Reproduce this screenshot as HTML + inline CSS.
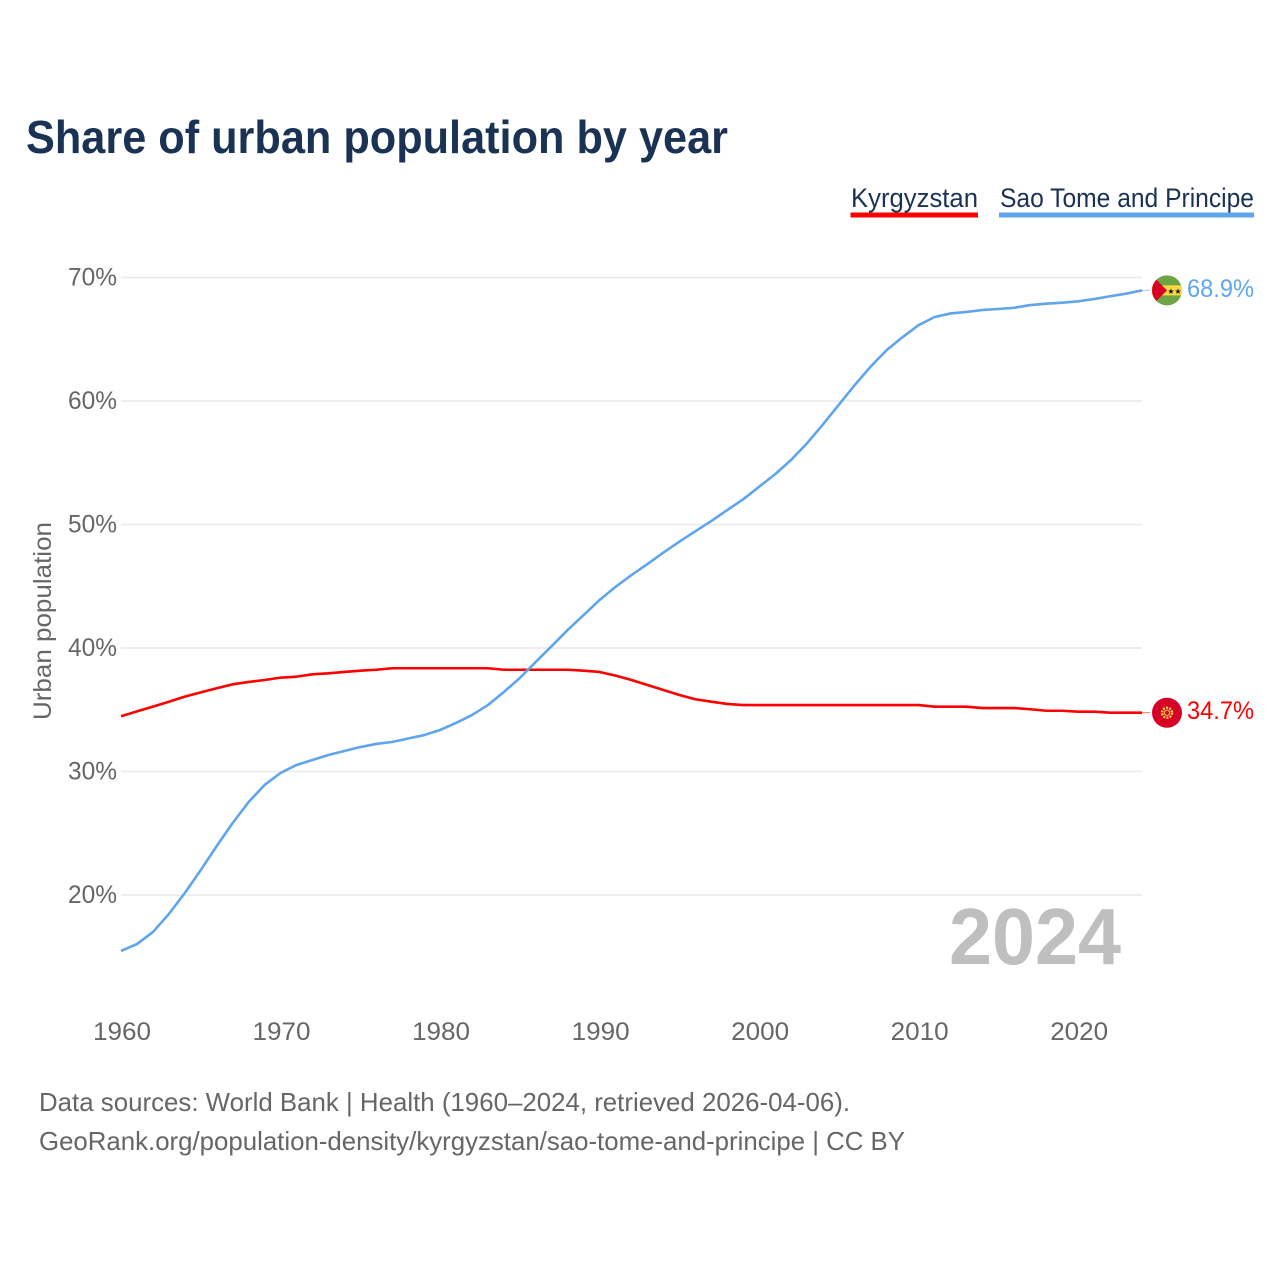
<!DOCTYPE html>
<html lang="en">
<head>
<meta charset="utf-8">
<title>Share of urban population by year</title>
<style>
html,body{margin:0;padding:0;background:#fff}
svg{display:block}
text{font-family:"Liberation Sans",sans-serif}
</style>
</head>
<body>
<svg id="chart" width="1280" height="1280" viewBox="0 0 1280 1280">
  <rect x="0" y="0" width="1280" height="1280" fill="#ffffff"/>
  <text x="26" y="153" font-size="46" font-weight="700" fill="#1a3254" textLength="702" lengthAdjust="spacingAndGlyphs">Share of urban population by year</text>

  <g>
    <g>
      <text x="851" y="207" font-size="27" fill="#1a3254" textLength="127" lengthAdjust="spacingAndGlyphs">Kyrgyzstan</text>
      <rect x="850.5" y="212.5" width="127.5" height="5" fill="#ff0000"/>
    </g>
    <g>
      <text x="1000" y="207" font-size="27" fill="#1a3254" textLength="254" lengthAdjust="spacingAndGlyphs">Sao Tome and Principe</text>
      <rect x="999" y="212.5" width="255" height="5" fill="#5fa5ec"/>
    </g>
  </g>

  <text transform="translate(51,621) rotate(-90)" text-anchor="middle" font-size="25" fill="#666666" textLength="198" lengthAdjust="spacingAndGlyphs">Urban population</text>

  <g id="grid"></g>
  <g id="yticks"></g>
  <g id="xticks"></g>

  <text x="949" y="964" font-size="80" font-weight="700" fill="#bfbfbf" textLength="172" lengthAdjust="spacingAndGlyphs">2024</text>

  <g id="lines"></g>

  <g id="flag-kg">
    <circle cx="0" cy="0" r="15" fill="#d80027"/>
    <circle cx="0" cy="0" r="5" fill="none" stroke="#ffda44" stroke-width="2.4" stroke-dasharray="2 1.2"/>
    <circle cx="0" cy="0" r="2.6" fill="#d80027" stroke="#ffda44" stroke-width="1"/>
  </g>
  <g id="flag-st">
    <circle cx="0" cy="0" r="15" fill="#6da544"/>
    <path d="M-15,-5 H14.2 A15,15 0 0 1 14.2,5 H-15 Z" fill="#ffda44"/>
    <path d="M-10.6,-10.6 L0,0 L-10.6,10.6 A15,15 0 0 1 -10.6,-10.6 Z" fill="#d80027"/>
    <text x="4" y="3.4" font-size="8" text-anchor="middle" fill="#111" style="font-family:'DejaVu Sans',sans-serif">★</text>
    <text x="11" y="3.4" font-size="8" text-anchor="middle" fill="#111" style="font-family:'DejaVu Sans',sans-serif">★</text>
  </g>

  <text id="value-kg" x="1187" font-size="25" fill="#ff0000" textLength="67" lengthAdjust="spacingAndGlyphs"></text>
  <text id="value-st" x="1187" font-size="25" fill="#5fa5ec" textLength="67" lengthAdjust="spacingAndGlyphs"></text>

  <g>
    <text x="39" y="1111" font-size="26" fill="#666666" textLength="811" lengthAdjust="spacingAndGlyphs">Data sources: World Bank | Health (1960–2024, retrieved 2026-04-06).</text>
    <text x="39" y="1150" font-size="26" fill="#666666" textLength="866" lengthAdjust="spacingAndGlyphs">GeoRank.org/population-density/kyrgyzstan/sao-tome-and-principe | CC BY</text>
  </g>
</svg>
<script>
const years = [1960,1961,1962,1963,1964,1965,1966,1967,1968,1969,1970,1971,1972,1973,1974,1975,1976,1977,1978,1979,1980,1981,1982,1983,1984,1985,1986,1987,1988,1989,1990,1991,1992,1993,1994,1995,1996,1997,1998,1999,2000,2001,2002,2003,2004,2005,2006,2007,2008,2009,2010,2011,2012,2013,2014,2015,2016,2017,2018,2019,2020,2021,2022,2023,2024];
const kyrgyzstanValues = [34.47,34.87,35.25,35.65,36.06,36.41,36.74,37.06,37.25,37.41,37.6,37.68,37.87,37.95,38.06,38.16,38.24,38.36,38.36,38.36,38.36,38.36,38.36,38.36,38.24,38.24,38.24,38.24,38.24,38.16,38.06,37.76,37.41,37.0,36.6,36.19,35.85,35.65,35.47,35.38,35.38,35.38,35.38,35.38,35.38,35.38,35.38,35.38,35.38,35.38,35.38,35.25,35.25,35.25,35.14,35.14,35.14,35.04,34.92,34.92,34.84,34.84,34.76,34.76,34.76];
const saoTomeValues = [15.47,16.03,17.0,18.46,20.16,22.02,23.97,25.83,27.53,28.91,29.88,30.53,30.93,31.34,31.66,31.98,32.23,32.39,32.67,32.95,33.36,33.93,34.57,35.38,36.44,37.57,38.87,40.16,41.46,42.67,43.89,44.95,45.91,46.8,47.73,48.61,49.45,50.28,51.17,52.04,53.06,54.07,55.22,56.57,58.1,59.7,61.3,62.8,64.13,65.18,66.15,66.8,67.09,67.21,67.37,67.45,67.55,67.77,67.88,67.96,68.07,68.26,68.48,68.69,68.96];
const yTickValues = [20,30,40,50,60,70];
const xTickValues = [1960,1970,1980,1990,2000,2010,2020];
const endLabels = ["34.7%","68.9%"];

const NS = "http://www.w3.org/2000/svg";
function xScale(year){ return 121 + (year - 1960) * (1142 - 121) / 64; }
function yScale(value){ return 277.5 + (70 - value) * 12.35; }
function make(tag){ return document.createElementNS(NS, tag); }

const grid = document.getElementById("grid");
const yticks = document.getElementById("yticks");
yTickValues.forEach(function(v){
  const ln = make("line");
  ln.setAttribute("x1", 121);
  ln.setAttribute("x2", 1142);
  ln.setAttribute("y1", yScale(v));
  ln.setAttribute("y2", yScale(v));
  ln.setAttribute("stroke", "#e9e9e9");
  ln.setAttribute("stroke-width", "1.4");
  
  
  grid.appendChild(ln);

  const t = make("text");
  t.setAttribute("x", 117);
  t.setAttribute("y", yScale(v) + 8);
  t.setAttribute("text-anchor", "end");
  t.setAttribute("font-size", "25");
  t.setAttribute("fill", "#666666");
  t.setAttribute("textLength", "49");
  t.setAttribute("lengthAdjust", "spacingAndGlyphs");
  
  
  t.textContent = v + "%";
  yticks.appendChild(t);
});

const xticks = document.getElementById("xticks");
xTickValues.forEach(function(y){
  const t = make("text");
  t.setAttribute("x", xScale(y) + 1);
  t.setAttribute("y", 1040);
  t.setAttribute("text-anchor", "middle");
  t.setAttribute("font-size", "25");
  t.setAttribute("fill", "#666666");
  t.setAttribute("textLength", "58");
  t.setAttribute("lengthAdjust", "spacingAndGlyphs");
  
  
  t.textContent = y;
  xticks.appendChild(t);
});

const lines = document.getElementById("lines");
function pathFor(values){
  return values.map(function(v, i){
    return (i ? "L" : "M") + xScale(years[i]).toFixed(2) + "," + yScale(v).toFixed(2);
  }).join(" ");
}

const kgLine = make("path");
kgLine.setAttribute("d", pathFor(kyrgyzstanValues));
kgLine.setAttribute("fill", "none");
kgLine.setAttribute("stroke", "#ff0000");
kgLine.setAttribute("stroke-width", "2.6");
kgLine.setAttribute("stroke-linejoin", "round");


lines.appendChild(kgLine);

const stLine = make("path");
stLine.setAttribute("d", pathFor(saoTomeValues));
stLine.setAttribute("fill", "none");
stLine.setAttribute("stroke", "#5fa5ec");
stLine.setAttribute("stroke-width", "2.6");
stLine.setAttribute("stroke-linejoin", "round");


lines.appendChild(stLine);

const lastKg = yScale(kyrgyzstanValues[kyrgyzstanValues.length - 1]);
const lastSt = yScale(saoTomeValues[saoTomeValues.length - 1]);

const kgLeader = make("line");
kgLeader.setAttribute("x1", 1142);
kgLeader.setAttribute("x2", 1150);
kgLeader.setAttribute("y1", lastKg);
kgLeader.setAttribute("y2", lastKg);
kgLeader.setAttribute("stroke", "#ff0000");
kgLeader.setAttribute("stroke-width", "1");
kgLeader.setAttribute("stroke-opacity", "0.6");


lines.appendChild(kgLeader);

const stLeader = make("line");
stLeader.setAttribute("x1", 1142);
stLeader.setAttribute("x2", 1150);
stLeader.setAttribute("y1", lastSt);
stLeader.setAttribute("y2", lastSt);
stLeader.setAttribute("stroke", "#5fa5ec");
stLeader.setAttribute("stroke-width", "1");
stLeader.setAttribute("stroke-opacity", "0.6");


lines.appendChild(stLeader);

document.getElementById("flag-kg").setAttribute("transform", "translate(1167," + lastKg + ")");
document.getElementById("flag-st").setAttribute("transform", "translate(1167," + lastSt + ")");

const kgValue = document.getElementById("value-kg");
kgValue.setAttribute("y", lastKg + 6.5);
kgValue.textContent = endLabels[0];
const stValue = document.getElementById("value-st");
stValue.setAttribute("y", lastSt + 6.5);
stValue.textContent = endLabels[1];
</script>
</body>
</html>
